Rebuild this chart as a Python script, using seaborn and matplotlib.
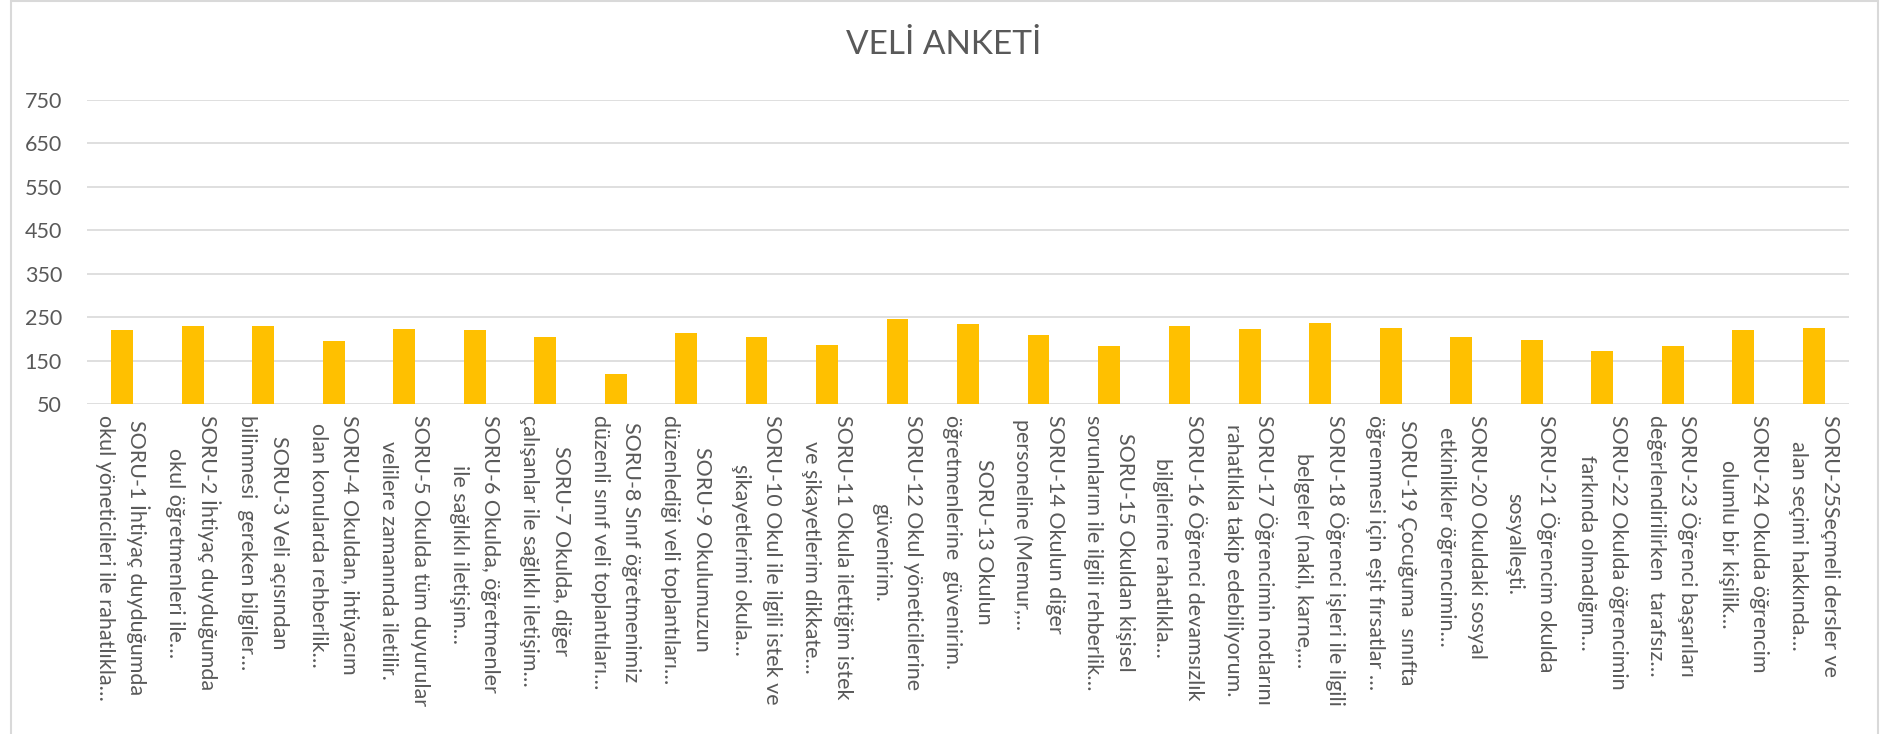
import matplotlib
matplotlib.use("Agg")
import matplotlib.pyplot as plt
import seaborn as sns
import pandas as pd
from matplotlib.patches import Rectangle

line1 = [
    "SORU-1 İhtiyaç duyduğumda", "SORU-2 İhtiyaç duyduğumda", "SORU-3 Veli açısından",
    "SORU-4 Okuldan, ihtiyacım", "SORU-5 Okulda tüm duyurular", "SORU-6 Okulda, öğretmenler",
    "SORU-7 Okulda, diğer", "SORU-8 Sınıf öğretmenimiz", "SORU-9 Okulumuzun",
    "SORU-10 Okul ile ilgili istek ve", "SORU-11 Okula ilettiğim istek", "SORU-12 Okul yöneticilerine",
    "SORU-13 Okulun", "SORU-14 Okulun diğer", "SORU-15 Okuldan kişisel",
    "SORU-16 Öğrenci devamsızlık", "SORU-17 Öğrencimin notlarını", "SORU-18 Öğrenci işleri ile ilgili",
    "SORU-19 Çocuğuma  sınıfta", "SORU-20 Okuldaki sosyal", "SORU-21 Öğrencim okulda",
    "SORU-22 Okulda öğrencimin", "SORU-23 Öğrenci başarıları", "SORU-24 Okulda öğrencim",
    "SORU-25Seçmeli dersler ve",
]
line2 = [
    "okul yöneticileri ile rahatlıkla…", "okul öğretmenleri ile…", "bilinmesi  gereken bilgiler…",
    "olan konularda rehberlik…", "velilere zamanında iletilir.", "ile sağlıklı iletişim…",
    "çalışanlar ile sağlıklı iletişim…", "düzenli sınıf veli toplantıları…", "düzenlediği veli toplantıları…",
    "şikayetlerimi okula…", "ve şikayetlerim dikkate…", "güvenirim.",
    "öğretmenlerine  güvenirim.", "personeline (Memur,…", "sorunlarım ile ilgili rehberlik…",
    "bilgilerine rahatlıkla…", "rahatlıkla takip edebiliyorum.", "belgeler (nakil, karne,…",
    "öğrenmesi için eşit fırsatlar …", "etkinlikler öğrencimin…", "sosyalleşti.",
    "farkında olmadığım…", "değerlendirilirken  tarafsız…", "olumlu bir kişilik…",
    "alan seçimi hakkında…",
]
values = [220, 230, 230, 195, 223, 220, 205, 118, 213, 204, 186, 245, 235, 210, 184,
          229, 223, 237, 224, 204, 197, 172, 184, 221, 225]
yticks = [50, 150, 250, 350, 450, 550, 650, 750]
title = "VELİ ANKETİ"

categories = [f"{a}\n{b}" for a, b in zip(line1, line2)]
df = pd.DataFrame({"soru": categories, "deger": values})

sns.set_theme(style="white")
plt.rcParams["font.family"] = ["Lato", "DejaVu Sans"]

W, H = 1894, 734
fig = plt.figure(figsize=(W / 100, H / 100), dpi=100)
ax = fig.add_axes([87 / W, 1 - 404 / H, (1849 - 87) / W, (404 - 100) / H])

sns.barplot(data=df, x="soru", y="deger", color="#FFC000", width=0.31,
            saturation=1, ax=ax, edgecolor="none")

ax.set_ylim(50, 750)
ax.set_yticks(yticks)
ax.set_xlim(-0.5, len(values) - 0.5)
ax.yaxis.grid(True, color="#D9D9D9", linewidth=1.2)
ax.set_axisbelow(True)
for s in ax.spines.values():
    s.set_visible(False)
ax.set_xlabel("")
ax.set_ylabel("")
ax.tick_params(axis="both", length=0)
ax.tick_params(axis="y", labelsize=15.5, labelcolor="#595959", pad=18)
ax.set_xticks(range(len(categories)))
ax.set_xticklabels(categories, rotation=-90, ha="center", va="top",
                   multialignment="center", fontsize=15.5, color="#595959",
                   linespacing=1.72)
ax.tick_params(axis="x", pad=8)

fig.text(944 / W, 1 - 45 / H, title, ha="center", va="center",
         fontsize=24, color="#595959")

fig.patches.append(Rectangle((11 / W, -0.01), (1878 - 11) / W, 1.0 - 1 / H + 0.01,
                             transform=fig.transFigure, fill=False,
                             edgecolor="#D9D9D9", linewidth=1.5))

fig.savefig("out.png", dpi=100)
